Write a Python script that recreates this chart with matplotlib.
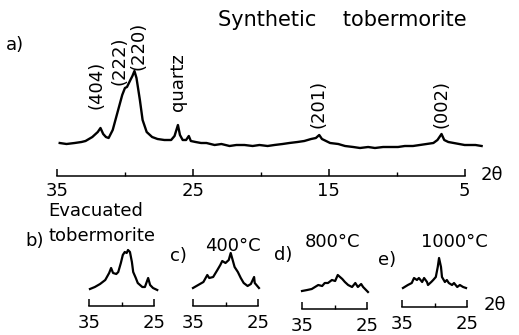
import matplotlib
matplotlib.use("Agg")
import matplotlib.pyplot as plt
from matplotlib.ticker import FixedLocator

plt.rcParams['font.family'] = ['DejaVu Sans']

W, H = 519, 335

# ---------------- data ----------------
# a) synthetic tobermorite (2theta, relative intensity)
two_theta_a = [34.8, 34.3, 33.7, 33.2, 32.9, 32.4, 32.0, 31.8, 31.6, 31.4, 31.2, 30.9,
               30.5, 30.2, 30.0, 29.85, 29.6, 29.45, 29.3, 29.15, 28.9, 28.7, 28.4, 28.0,
               27.6, 27.1, 26.6, 26.35, 26.1, 25.95, 25.75, 25.5, 25.3, 25.15, 24.8, 24.4,
               24.0, 23.4, 22.9, 22.3, 21.8, 21.2, 20.6, 20.1, 19.5, 19.0, 18.4, 17.9,
               17.3, 16.8, 16.3, 15.95, 15.7, 15.5, 15.2, 14.9, 14.3, 13.8, 13.2, 12.7,
               12.1, 11.6, 11.0, 10.5, 9.9, 9.4, 8.8, 8.3, 7.8, 7.3, 7.0, 6.7, 6.5, 6.2,
               5.8, 5.4, 5.0, 4.6, 4.2, 3.75]
intensity_a = [7, 6, 7, 8, 9, 13, 18, 22, 16, 13, 12, 20,
               40, 55, 62, 63, 70, 74, 79, 72, 50, 30, 18, 13,
               11, 10, 10, 14, 25, 15, 10, 10, 14, 9, 8, 7,
               7, 5, 6, 4, 5, 5, 4, 5, 4, 5, 6, 7,
               8, 9, 11, 12, 15, 11, 9, 7, 6, 4, 3, 2,
               3, 2, 3, 3, 3, 4, 4, 5, 6, 7, 10, 16, 10, 8,
               7, 6, 5, 5, 5, 4]

# b) evacuated tobermorite
two_theta_b = [34.85, 34.1, 33.3, 32.5, 31.9, 31.6, 31.3, 30.8, 30.5, 30.1, 29.8, 29.5,
               29.2, 29.0, 28.7, 28.4, 28.2, 27.8, 27.5, 26.8, 26.4, 25.9, 25.6, 25.15, 24.5]
intensity_b = [17, 19, 22, 26, 33, 38, 33, 32, 34, 43, 51, 54,
               53, 56, 54, 44, 34, 28, 23, 19, 19, 28, 21, 18, 16]

# c) 400 C
two_theta_c = [35.0, 34.2, 33.4, 32.8, 32.5, 31.9, 31.25, 30.8, 30.5, 30.0, 29.5, 29.2,
               28.9, 28.6, 28.1, 27.65, 27.2, 26.6, 26.1, 25.6, 25.5, 24.85]
intensity_c = [18, 21, 24, 31, 28, 29, 36, 41, 45, 43, 46, 53,
               46, 39, 34, 28, 23, 20, 22, 29, 23, 18]

# d) 800 C
two_theta_d = [35.0, 34.2, 33.5, 33.0, 32.5, 31.9, 31.5, 31.0, 30.4, 29.9, 29.5, 28.8,
               28.4, 27.9, 27.3, 26.8, 26.4, 25.9, 25.6, 24.85]
intensity_d = [18, 19, 20, 22, 24, 23, 26, 26, 29, 28, 34, 30,
               27, 24, 22, 26, 22, 25, 22, 17]

# e) 1000 C
two_theta_e = [34.85, 34.1, 33.5, 33.15, 32.7, 32.4, 31.9, 31.6, 31.15, 31.0, 30.5, 30.2,
               29.8, 29.5, 29.3, 29.0, 28.85, 28.4, 28.1, 27.8, 27.3, 27.0, 26.5, 26.1,
               25.6, 25.15]
intensity_e = [19, 22, 24, 29, 27, 29, 25, 29, 25, 22, 25, 27,
               30, 40, 49, 40, 30, 25, 27, 24, 22, 24, 20, 22,
               20, 19]

main_ticks = [35, 25, 15, 5]
main_minor = [30, 20, 10]
small_ticks = [35, 25]
small_minor = [30]

peak_labels = ["(404)", "(222)", "(220)", "quartz", "(201)", "(002)"]
peak_pos = [32.06, 30.37, 29.0, 26.1, 15.74, 6.7]
peak_lab_y = [65, 89, 104, 68, 46, 46]

# ---------------- figure ----------------
fig = plt.figure(figsize=(W / 100, H / 100), dpi=100)
fig.patch.set_facecolor('white')


def add_px_axes(left, top, width, height):
    return fig.add_axes([left / W, 1 - (top + height) / H, width / W, height / H])


def fig_text(x, y, s, **kw):
    fig.text(x / W, 1 - y / H, s, **kw)


def style_axis(ax, bounds, majors, minors, fs, pad):
    for side in ('left', 'right', 'top'):
        ax.spines[side].set_visible(False)
    ax.spines['bottom'].set_bounds(*bounds)
    ax.spines['bottom'].set_linewidth(1.1)
    ax.set_yticks([])
    ax.xaxis.set_major_locator(FixedLocator(majors))
    ax.xaxis.set_minor_locator(FixedLocator(minors))
    ax.tick_params(axis='x', which='major', direction='in', length=5, width=1.1,
                   labelsize=fs, pad=pad)
    ax.tick_params(axis='x', which='minor', direction='in', length=3, width=1.0)
    ax.set_xticklabels([str(t) for t in majors])
    ax.patch.set_alpha(0)


# main panel a)
ax = add_px_axes(57, 60, 428, 115.5)
ax.plot(two_theta_a, intensity_a, color='black', lw=1.7, clip_on=False)
ax.set_xlim(35, 3.5)
ax.set_ylim(-25.5, 90)
style_axis(ax, (5, 35), main_ticks, main_minor, 13, 5)
for lab, xp, yp in zip(peak_labels, peak_pos, peak_lab_y):
    ax.text(xp, yp, lab, rotation=90, ha='center', va='center', fontsize=13)

fig_text(15, 45, "a)", fontsize=13, ha='center', va='center')
fig_text(342, 20, "Synthetic    tobermorite", fontsize=15, ha='center', va='center')
fig_text(492, 175, "2θ", fontsize=13, ha='center', va='center')

# small panels
panels = [
    (89, 306, two_theta_b, intensity_b),
    (193, 306, two_theta_c, intensity_c),
    (302, 309, two_theta_d, intensity_d),
    (402, 307, two_theta_e, intensity_e),
]
for left, base, tt, ii in panels:
    sax = add_px_axes(left, base - 60, 65, 60)
    sax.plot(tt, ii, color='black', lw=1.6, clip_on=False)
    sax.set_xlim(35, 25)
    sax.set_ylim(0, 60)
    style_axis(sax, (25, 35), small_ticks, small_minor, 13, 6)

fig_text(96, 211, "Evacuated", fontsize=13, ha='center', va='center')
fig_text(102, 236, "tobermorite", fontsize=13, ha='center', va='center')
fig_text(35, 241, "b)", fontsize=13, ha='center', va='center')
fig_text(178, 256, "c)", fontsize=13, ha='center', va='center')
fig_text(233, 246, "400°C", fontsize=13, ha='center', va='center')
fig_text(283, 255, "d)", fontsize=13, ha='center', va='center')
fig_text(333, 242, "800°C", fontsize=13, ha='center', va='center')
fig_text(387, 260, "e)", fontsize=13, ha='center', va='center')
fig_text(454, 242, "1000°C", fontsize=13, ha='center', va='center')
fig_text(495, 305, "2θ", fontsize=13, ha='center', va='center')

fig.savefig("out.png", dpi=100, facecolor='white')
